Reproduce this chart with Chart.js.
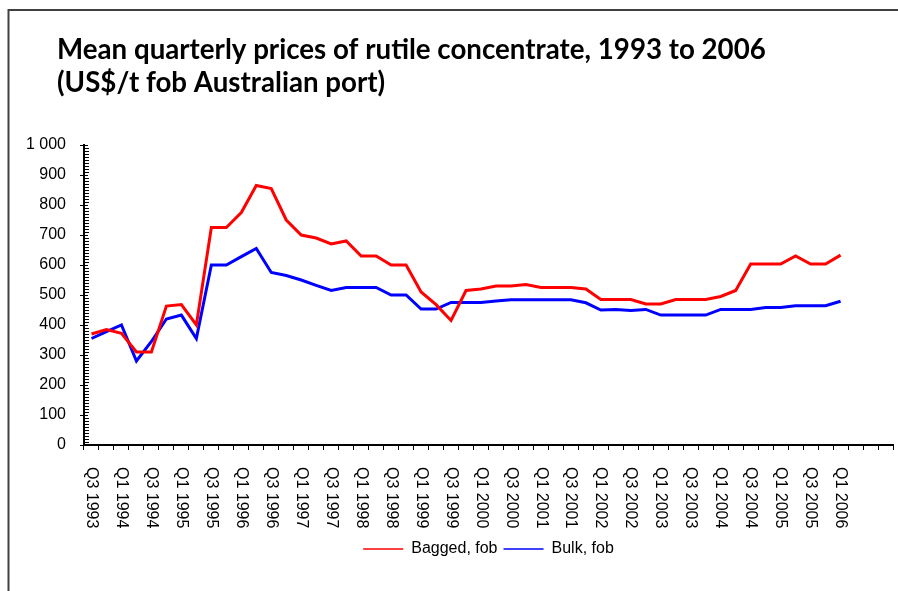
<!DOCTYPE html>
<html>
<head>
<meta charset="utf-8">
<script src="https://cdn.jsdelivr.net/npm/chart.js@4/dist/chart.umd.min.js"></script>
<style>
    html, body { margin: 0; padding: 0; background: #fff; }
    #wrap { width: 898px; height: 591px; }
</style>
</head>
<body>
<div id="wrap"><canvas id="rutileChart" width="898" height="591"></canvas></div>
<script>
// Quarter labels (the last three categories are empty, as in the source chart)
const quarters = [
    'Q3 1993', 'Q4 1993',
    'Q1 1994', 'Q2 1994', 'Q3 1994', 'Q4 1994',
    'Q1 1995', 'Q2 1995', 'Q3 1995', 'Q4 1995',
    'Q1 1996', 'Q2 1996', 'Q3 1996', 'Q4 1996',
    'Q1 1997', 'Q2 1997', 'Q3 1997', 'Q4 1997',
    'Q1 1998', 'Q2 1998', 'Q3 1998', 'Q4 1998',
    'Q1 1999', 'Q2 1999', 'Q3 1999', 'Q4 1999',
    'Q1 2000', 'Q2 2000', 'Q3 2000', 'Q4 2000',
    'Q1 2001', 'Q2 2001', 'Q3 2001', 'Q4 2001',
    'Q1 2002', 'Q2 2002', 'Q3 2002', 'Q4 2002',
    'Q1 2003', 'Q2 2003', 'Q3 2003', 'Q4 2003',
    'Q1 2004', 'Q2 2004', 'Q3 2004', 'Q4 2004',
    'Q1 2005', 'Q2 2005', 'Q3 2005', 'Q4 2005',
    'Q1 2006', '', '', ''
];

// Bagged, fob (US$/t)
const baggedPrices = [
    370, 385, 372, 310, 310, 463, 468, 400, 725, 725,
    775, 865, 855, 750, 700, 690, 670, 680, 630, 630,
    600, 600, 510, 468, 415, 515, 520, 530, 530, 535,
    525, 525, 525, 520, 485, 485, 485, 470, 470, 485,
    485, 485, 495, 515, 603, 603, 603, 630, 603, 603,
    633
];

// Bulk, fob (US$/t)
const bulkPrices = [
    355, 378, 400, 280, 345, 420, 433, 355, 600, 600,
    628, 655, 575, 565, 550, 532, 515, 525, 525, 525,
    500, 500, 453, 453, 475, 475, 475, 480, 484, 484,
    484, 484, 484, 474, 450, 452, 448, 452, 433, 433,
    433, 433, 452, 452, 452, 458, 458, 464, 464, 464,
    479
];

const titleLines = [
    'Mean quarterly prices of rutile concentrate, 1993 to 2006',
    '(US$/t fob Australian port)'
];
const seriesNames = ['Bagged, fob', 'Bulk, fob'];
const yMin = 0;
const yMax = 1000;
const yMajorStep = 100;
const yMinorStep = 10;

const labelFont = '"Liberation Sans", Arial, sans-serif';

// Frame, title, y tick marks and rotated category labels
const decorPlugin = {
    id: 'decor',
    beforeDraw(chart) {
        const ctx = chart.ctx;
        ctx.save();
        ctx.fillStyle = '#fff';
        ctx.fillRect(0, 0, chart.width, chart.height);

        // outer frame (only top and left edges are visible)
        ctx.strokeStyle = '#404040';
        ctx.lineWidth = 2;
        ctx.beginPath();
        ctx.moveTo(8.5, chart.height);
        ctx.lineTo(8.5, 10);
        ctx.lineTo(chart.width, 10);
        ctx.stroke();

        // title
        ctx.fillStyle = '#000';
        ctx.font = 'bold 27.7px Lato, sans-serif';
        ctx.textAlign = 'left';
        ctx.textBaseline = 'alphabetic';
        ctx.fillText(titleLines[0], 57, 59);
        ctx.fillText(titleLines[1], 57, 92);
        ctx.restore();
    },
    afterDraw(chart) {
        const ctx = chart.ctx;
        const xScale = chart.scales.x;
        const yScale = chart.scales.y;
        const area = chart.chartArea;

        ctx.save();
        ctx.strokeStyle = '#000';
        ctx.lineWidth = 1;
        ctx.beginPath();
        for (let v = yMin; v <= yMax; v += yMinorStep) {
            const py = Math.round(yScale.getPixelForValue(v)) + 0.5;
            if (v % yMajorStep === 0) {
                ctx.moveTo(area.left - 4, py);
                ctx.lineTo(area.left + 4, py);
            } else {
                ctx.moveTo(area.left, py);
                ctx.lineTo(area.left + 5, py);
            }
        }
        ctx.stroke();

        // every second quarter, text reading downwards
        ctx.fillStyle = '#000';
        ctx.font = '16px ' + labelFont;
        ctx.textAlign = 'left';
        ctx.textBaseline = 'middle';
        quarters.forEach((q, i) => {
            if (i % 2 !== 0 || !q) return;
            const px = xScale.getPixelForValue(i);
            ctx.save();
            ctx.translate(px, area.bottom + 22);
            ctx.rotate(Math.PI / 2);
            ctx.fillText(q, 0, 0);
            ctx.restore();
        });
        ctx.restore();
    }
};

const ctx = document.getElementById('rutileChart').getContext('2d');
const rutileChart = new Chart(ctx, {
    type: 'line',
    data: {
        labels: quarters,
        datasets: [
            {
                label: seriesNames[0],
                data: baggedPrices,
                borderColor: '#ff0000',
                backgroundColor: '#ff0000',
                borderWidth: 3,
                pointRadius: 0,
                tension: 0
            },
            {
                label: seriesNames[1],
                data: bulkPrices,
                borderColor: '#0000ff',
                backgroundColor: '#0000ff',
                borderWidth: 3,
                pointRadius: 0,
                tension: 0
            }
        ]
    },
    options: {
        responsive: false,
        animation: false,
        layout: {
            padding: { left: 24, right: 5, top: 145, bottom: 24 }
        },
        scales: {
            x: {
                type: 'category',
                offset: true,
                ticks: { display: false },
                grid: {
                    display: true,
                    drawOnChartArea: false,
                    drawTicks: true,
                    tickLength: 5,
                    offset: true,
                    color: '#000',
                    lineWidth: 1
                },
                border: { display: true, color: '#000', width: 2 },
                afterFit: (scale) => { scale.height = 90; }
            },
            y: {
                min: yMin,
                max: yMax,
                ticks: {
                    stepSize: yMajorStep,
                    padding: 18,
                    color: '#000',
                    font: { family: labelFont, size: 16 },
                    callback: (value) => value >= 1000
                        ? Math.floor(value / 1000) + ' ' + String(value % 1000).padStart(3, '0')
                        : String(value)
                },
                grid: { display: false, drawTicks: false },
                border: { display: true, color: '#000', width: 2 },
                afterFit: (scale) => { scale.width = 60; }
            }
        },
        plugins: {
            title: { display: false },
            tooltip: { enabled: false },
            legend: {
                position: 'bottom',
                fullSize: false,
                labels: {
                    color: '#000',
                    font: { family: labelFont, size: 16 },
                    usePointStyle: true,
                    pointStyle: 'line',
                    pointStyleWidth: 40,
                    padding: 6,
                    generateLabels: (chart) => Chart.defaults.plugins.legend.labels
                        .generateLabels(chart)
                        .map(item => ({ ...item, lineWidth: 1.5 }))
                }
            }
        }
    },
    plugins: [decorPlugin]
});
</script>
</body>
</html>
